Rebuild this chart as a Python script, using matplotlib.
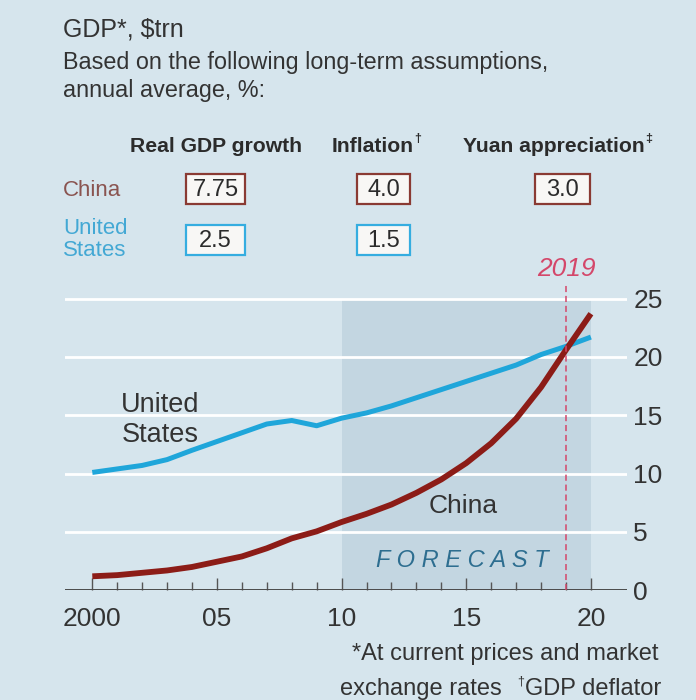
import matplotlib
matplotlib.use("Agg")
import matplotlib.pyplot as plt
from matplotlib.patches import Rectangle
from matplotlib.ticker import FixedLocator

# ---- data -------------------------------------------------------------
years = list(range(2000, 2021))
us_gdp = [10.1, 10.4, 10.7, 11.2, 12.0, 12.75, 13.5, 14.25, 14.55, 14.1, 14.75,
          15.2, 15.8, 16.5, 17.2, 17.9, 18.6, 19.3, 20.2, 20.9, 21.7]
china_gdp = [1.2, 1.3, 1.5, 1.7, 2.0, 2.45, 2.9, 3.6, 4.45, 5.05, 5.85,
             6.55, 7.35, 8.35, 9.5, 10.9, 12.6, 14.7, 17.4, 20.6, 23.7]
forecast_start = 2010
forecast_end = 2020
crossover_year = 2019

header_labels = ["Real GDP growth", "Inflation", "Yuan appreciation"]
header_marks = ["", "\u2020", "\u2021"]
china_assumptions = ["7.75", "4.0", "3.0"]
us_assumptions = ["2.5", "1.5", None]

x_ticks = [2000, 2005, 2010, 2015, 2020]
x_tick_labels = ["2000", "05", "10", "15", "20"]
y_ticks = [0, 5, 10, 15, 20, 25]

# ---- style ------------------------------------------------------------
BG = "#d6e5ed"
SHADE = "#c3d6e1"
US_COL = "#1fa6da"
CN_COL = "#8c1c17"
TXT = "#333333"
RED = "#d4476a"
CN_LABEL = "#8a5450"
US_LABEL = "#43a8d4"
FC_COL = "#2d6e90"

plt.rcParams["font.family"] = ["Liberation Sans", "DejaVu Sans"]

W, H = 696, 700
fig = plt.figure(figsize=(W / 100, H / 100), dpi=100, facecolor=BG)


def px(x, y):
    """pixel position (from top-left) -> figure fraction"""
    return x / W, 1 - y / H


renderer = fig.canvas.get_renderer()

# ---- title block ------------------------------------------------------
fig.text(*px(63, 36), "GDP*, $trn", fontsize=18, color=TXT, va="baseline")
fig.text(*px(63, 69), "Based on the following long-term assumptions,",
         fontsize=16.8, color=TXT, va="baseline")
fig.text(*px(63, 97), "annual average, %:", fontsize=16.8, color=TXT,
         va="baseline")

# column headers with superscript marks
header_left = [130, 332, 463]
for lbl, mark, x0 in zip(header_labels, header_marks, header_left):
    t = fig.text(*px(x0, 152), lbl, fontsize=15.2, fontweight="bold",
                 color="#2b2b2b", va="baseline")
    if mark:
        bb = t.get_window_extent(renderer)
        fig.text(bb.x1 / W + 0.5 / W, px(0, 139)[1], mark, fontsize=9,
                 fontweight="bold", color="#2b2b2b", va="center")

# row labels
fig.text(*px(63, 196), "China", fontsize=16, color=CN_LABEL, va="baseline")
fig.text(*px(63, 234), "United", fontsize=16, color=US_LABEL, va="baseline")
fig.text(*px(63, 256), "States", fontsize=16, color=US_LABEL, va="baseline")

# assumption boxes
col_centers = [215.5, 383.5, 562.5]
col_widths = [59, 53, 55]
rows = [(china_assumptions, "#8a3a33", 174.5, 204, 196),
        (us_assumptions, "#35ade0", 225.5, 254.5, 247)]
for values, edge, top, bottom, base in rows:
    for v, cx, w in zip(values, col_centers, col_widths):
        if v is None:
            continue
        x0, y0 = px(cx - w / 2, bottom)
        fig.patches.append(Rectangle((x0, y0), w / W, (bottom - top) / H,
                                     transform=fig.transFigure,
                                     facecolor="#f8f7f5", edgecolor=edge,
                                     linewidth=1.6))
        fig.text(*px(cx, base), v, fontsize=17, color="#2b2b2b",
                 ha="center", va="baseline")

# ---- chart ------------------------------------------------------------
y_per_unit = 11.67
x_left, x_right = 65, 627
y_zero, y_top = 590.3, 281
xmin = 2000 - (92.3 - x_left) / 24.93
xmax = 2000 + (x_right - 92.3) / 24.93
ymax = (y_zero - y_top) / y_per_unit

l, b = px(x_left, y_zero)
ax = fig.add_axes([l, b, (x_right - x_left) / W, (y_zero - y_top) / H])
ax.set_facecolor("none")
ax.set_xlim(xmin, xmax)
ax.set_ylim(0, ymax)
for s in ax.spines.values():
    s.set_visible(False)

# forecast shading
ax.fill_between([forecast_start, forecast_end], 0, y_ticks[-1],
                color=SHADE, zorder=0.5, linewidth=0)

# gridlines
for yv in y_ticks[1:]:
    ax.axhline(yv, color="white", linewidth=2.0, zorder=1)
ax.axhline(0, color="#4a4a4a", linewidth=1.4, zorder=3)

# series
ax.plot(years, us_gdp, color=US_COL, linewidth=3.6, zorder=3,
        solid_capstyle="butt", solid_joinstyle="round")
ax.plot(years, china_gdp, color=CN_COL, linewidth=4.2, zorder=3,
        solid_capstyle="butt", solid_joinstyle="round")

# crossover marker
ax.plot([crossover_year, crossover_year], [0, 26.3], color=RED,
        linewidth=1.1, dashes=(4, 2.5), zorder=4, clip_on=False)
ax.text(crossover_year, 26.93, str(crossover_year), fontsize=19,
        style="italic", color=RED, ha="center", va="baseline")

# series labels
ax.text(2002.72, 15.28, "United", fontsize=19.5, color=TXT, ha="center",
        va="baseline")
ax.text(2002.72, 12.7, "States", fontsize=19.5, color=TXT, ha="center",
        va="baseline")
ax.text(2014.86, 6.64, "China", fontsize=19, color=TXT, ha="center",
        va="baseline")
ax.text(2014.85, 2.0, "F O R E C A S T", fontsize=17, style="italic",
        color=FC_COL, ha="center", va="baseline")

# axes ticks
ax.set_xticks(x_ticks)
ax.set_xticklabels(x_tick_labels)
ax.xaxis.set_minor_locator(FixedLocator([y for y in years if y not in x_ticks]))
ax.tick_params(axis="x", which="major", direction="in", length=9,
               width=1.0, color="#555555", pad=12, labelsize=19,
               labelcolor=TXT)
ax.tick_params(axis="x", which="minor", direction="in", length=6,
               width=1.0, color="#555555")
ax.yaxis.tick_right()
ax.set_yticks(y_ticks)
ax.tick_params(axis="y", length=0, pad=4.5, labelsize=19, labelcolor=TXT)
for tl in ax.get_yticklabels():
    tl.set_horizontalalignment("left")

# ---- footnotes --------------------------------------------------------
fig.text(*px(659, 660), "*At current prices and market", fontsize=17,
         color=TXT, ha="right", va="baseline")
t = fig.text(*px(661, 695), "GDP deflator", fontsize=17, color=TXT,
             ha="right", va="baseline")
bb = t.get_window_extent(renderer)
d = fig.text(bb.x0 / W - 0.5 / W, px(0, 681)[1], "\u2020", fontsize=9,
             color=TXT, ha="right", va="center")
bb2 = d.get_window_extent(renderer)
fig.text(bb2.x0 / W - 16 / W, px(0, 695)[1], "exchange rates", fontsize=17,
         color=TXT, ha="right", va="baseline")

fig.savefig("out.png", dpi=100, facecolor=BG)
